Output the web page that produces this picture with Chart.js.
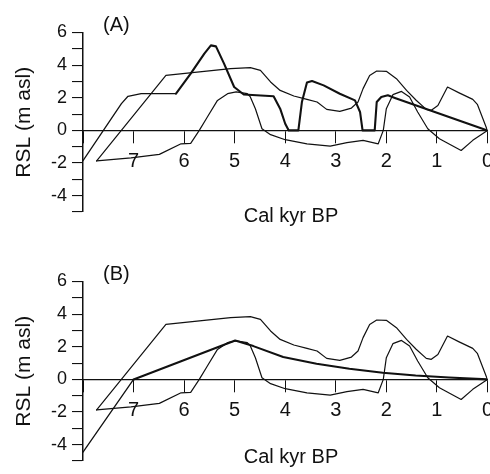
<!DOCTYPE html>
<html>
<head>
<meta charset="utf-8">
<script src="https://cdn.jsdelivr.net/npm/chart.js@4.4.1/dist/chart.umd.min.js"></script>
<style>
  html, body { margin: 0; padding: 0; background: #fff; overflow: hidden; }
  body { width: 490px; height: 474px; position: relative; }
  canvas { position: absolute; left: 0; }
  #chartA { top: 0; }
  #chartB { top: 249px; }
</style>
</head>
<body>
<canvas id="chartA" width="500" height="249"></canvas>
<canvas id="chartB" width="500" height="249"></canvas>
<script>
// ages in cal kyr BP, RSL in m asl
const upperAge = [7.73, 6.36, 5.08, 4.69, 4.49, 4.29, 4.1, 3.83, 3.57, 3.37, 3.18, 2.92, 2.69, 2.56, 2.46, 2.33, 2.19, 2.0, 1.8, 1.6, 1.41, 1.21, 1.11, 0.98, 0.79, 0.56, 0.29, 0.2, 0];
const upperRsl = [-1.87, 3.37, 3.79, 3.85, 3.68, 2.97, 2.45, 2.11, 1.9, 1.74, 1.29, 1.17, 1.37, 1.74, 2.56, 3.37, 3.64, 3.62, 3.17, 2.45, 1.85, 1.29, 1.23, 1.53, 2.66, 2.3, 1.9, 1.6, 0];

const lowerAge = [7.73, 7.05, 6.49, 6.06, 5.87, 5.7, 5.54, 5.34, 5.14, 4.97, 4.75, 4.69, 4.59, 4.46, 4.29, 4.0, 3.57, 3.11, 2.78, 2.46, 2.16, 2.06, 2.0, 1.87, 1.7, 1.54, 1.38, 1.18, 0.95, 0.52, 0.29, 0];
const lowerRsl = [-1.87, -1.68, -1.47, -0.82, -0.79, 0, 0.82, 1.84, 2.25, 2.36, 2.25, 2.05, 1.33, 0.1, -0.26, -0.57, -0.82, -0.96, -0.75, -0.61, -0.82, 0, 1.33, 2.19, 2.39, 2.05, 1.13, 0.1, -0.51, -1.23, -0.61, 0];

const modelAAge = [8.0, 7.24, 7.11, 6.85, 6.16, 5.87, 5.6, 5.47, 5.37, 5.21, 5.01, 4.82, 4.23, 4.1, 4.0, 3.93, 3.74, 3.67, 3.57, 3.47, 3.24, 2.92, 2.62, 2.52, 2.47, 2.23, 2.19, 2.1, 1.97, 1.83, 0];
const modelARsl = [-1.85, 1.64, 2.09, 2.25, 2.25, 3.48, 4.71, 5.21, 5.15, 4.09, 2.66, 2.2, 2.09, 1.33, 0.41, 0, 0, 1.74, 2.93, 3.03, 2.76, 2.25, 1.84, 1.13, 0, 0, 1.74, 2.05, 2.15, 1.99, 0];

const modelBAge = [8.0, 7.0, 4.99, 4.63, 4.04, 3.38, 2.73, 2.07, 1.42, 0.76, 0];
const modelBRsl = [-4.45, 0, 2.38, 2.04, 1.37, 0.96, 0.65, 0.41, 0.24, 0.12, 0];

const ageTicks = [8, 7, 6, 5, 4, 3, 2, 1, 0];
const rslLabels = [6, 4, 2, 0, -2, -4];

const FONT = '"Liberation Sans", Arial, Helvetica, sans-serif';
const INK = '#111';

function pts(ages, vals) {
    return ages.map((a, i) => ({ x: a, y: vals[i] }));
}

const panelText = {
    id: 'panelText',
    afterDraw(chart, args, opts) {
        const { ctx, chartArea } = chart;
        ctx.save();
        ctx.fillStyle = INK;
        ctx.textBaseline = 'alphabetic';
        ctx.font = '20px ' + FONT;
        ctx.textAlign = 'left';
        ctx.fillText(opts.label, chartArea.left + 20, 31);
        ctx.textAlign = 'center';
        ctx.fillText('Cal kyr BP', chartArea.left + 208, opts.titleY);
        ctx.restore();
    }
};

// thin first part of the model curve, heavier after that
function makeChart(id, label, modelAge, modelRsl, thinSegs, titleY) {
    return new Chart(document.getElementById(id), {
        type: 'line',
        data: {
            datasets: [
                { data: pts(upperAge, upperRsl), borderColor: INK, borderWidth: 1.2 },
                { data: pts(lowerAge, lowerRsl), borderColor: INK, borderWidth: 1.2 },
                {
                    data: pts(modelAge, modelRsl),
                    borderColor: INK,
                    borderWidth: 2,
                    segment: { borderWidth: (ctx) => ctx.p0DataIndex < thinSegs ? 1.3 : 2.1 }
                }
            ]
        },
        options: {
            responsive: false,
            animation: false,
            devicePixelRatio: 1,
            parsing: false,
            elements: {
                point: { radius: 0 },
                line: { tension: 0, fill: false, borderJoinStyle: 'round', borderCapStyle: 'round' }
            },
            layout: { padding: { left: 0, right: 12, top: 32.5, bottom: 37 } },
            plugins: {
                legend: { display: false },
                tooltip: { enabled: false },
                panelText: { label: label, titleY: titleY }
            },
            scales: {
                x: {
                    type: 'linear',
                    min: 0,
                    max: 8,
                    reverse: true,
                    position: { y: 0 },
                    afterBuildTicks: (s) => { s.ticks = ageTicks.map(v => ({ value: v })); },
                    ticks: {
                        autoSkip: false,
                        maxRotation: 0,
                        padding: 7,
                        color: INK,
                        font: { family: FONT, size: 20 },
                        callback: (v) => v === 8 ? '' : String(v)
                    },
                    grid: { drawOnChartArea: false, tickLength: 12, color: INK, lineWidth: 1 },
                    border: { color: INK, width: 1.3 }
                },
                y: {
                    type: 'linear',
                    min: -5,
                    max: 6,
                    position: 'left',
                    ticks: {
                        stepSize: 1,
                        autoSkip: false,
                        padding: 5,
                        color: INK,
                        font: { family: FONT, size: 18 },
                        callback: (v) => rslLabels.includes(v) ? String(v) : ''
                    },
                    grid: { drawOnChartArea: false, tickLength: 11, color: INK, lineWidth: 1.1 },
                    border: { color: INK, width: 1.5 },
                    title: {
                        display: true,
                        text: 'RSL (m asl)',
                        color: INK,
                        font: { family: FONT, size: 21 },
                        padding: { top: 12, bottom: 0 }
                    },
                    afterFit: (s) => { s.width = 83; }
                }
            }
        },
        plugins: [panelText]
    });
}

makeChart('chartA', '(A)', modelAAge, modelARsl, 4, 222);
makeChart('chartB', '(B)', modelBAge, modelBRsl, 1, 214);
</script>
</body>
</html>
